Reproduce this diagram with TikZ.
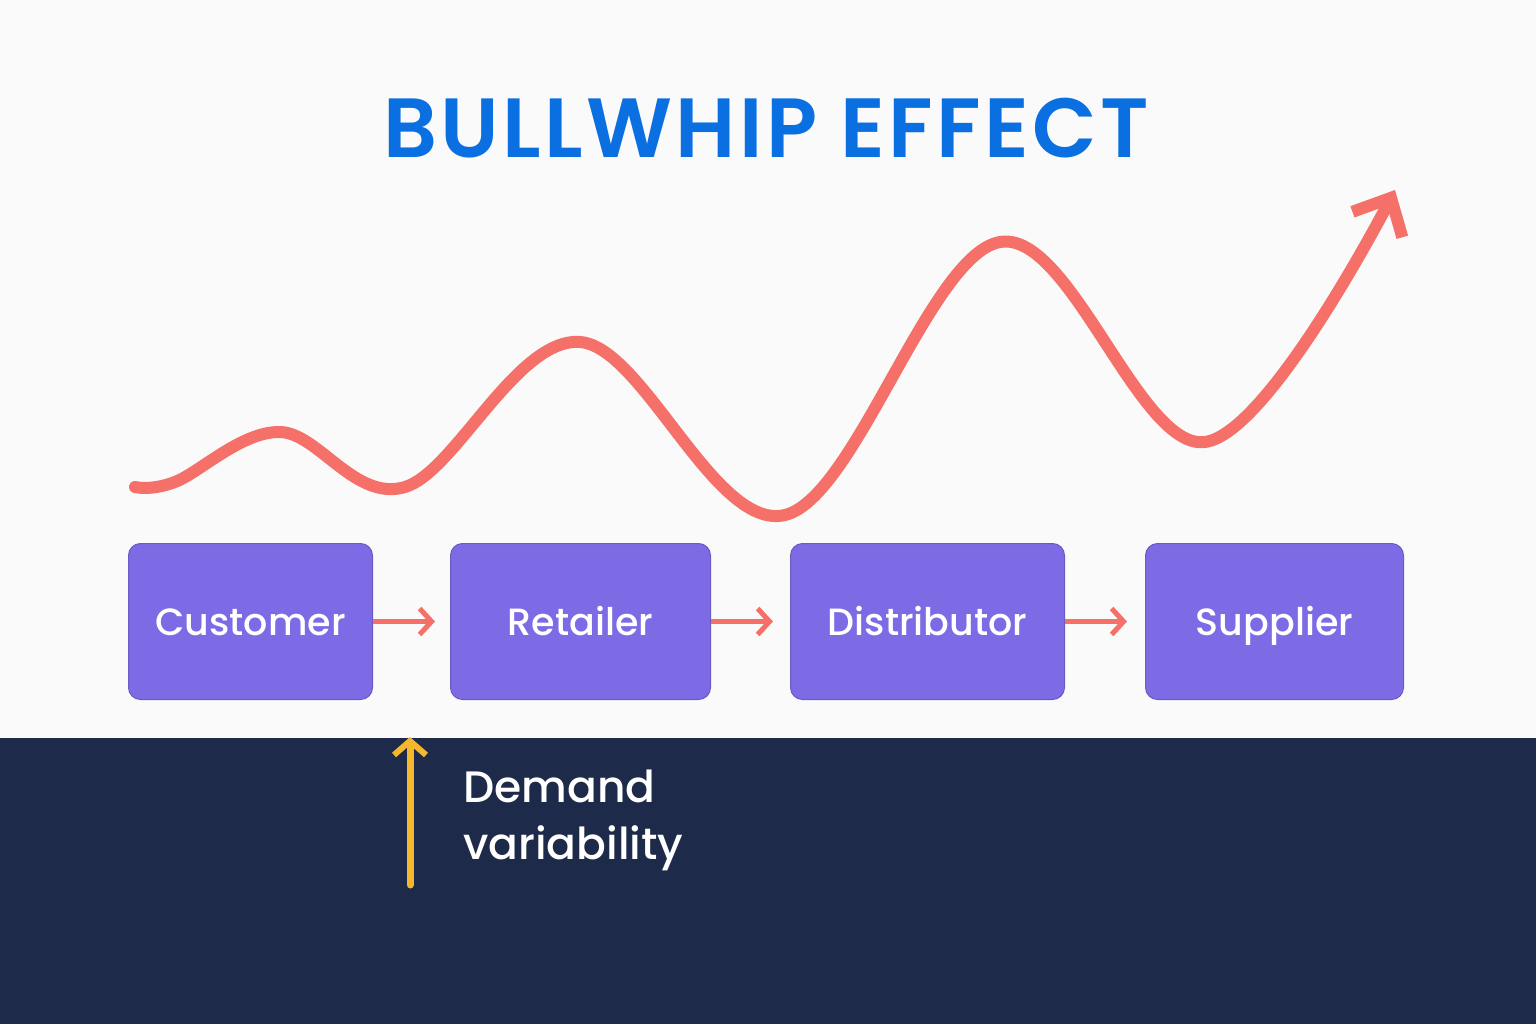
\documentclass[tikz,border=0pt]{standalone}
\usepackage{fontspec}
\setmainfont{Poppins}
\newfontfamily\pmed{Poppins Medium}
\newfontfamily\psemi{Poppins SemiBold}[LetterSpace=4]
\usetikzlibrary{arrows.meta}
\definecolor{bgl}{HTML}{FAFAFA}
\definecolor{navy}{HTML}{1E2A4A}
\definecolor{ttl}{HTML}{0A6FE0}
\definecolor{boxc}{HTML}{7D6BE5}
\definecolor{redc}{HTML}{F47068}
\definecolor{yel}{HTML}{F4B72E}
\begin{document}
\begin{tikzpicture}[x=1pt,y=-1pt,
  stage/.style={fill=boxc,draw=boxc!85!black,line width=1pt,rounded corners=12pt,anchor=north west,inner sep=0pt,minimum height=156pt},
  lbl/.style={text=white,font=\fontsize{38}{40}\selectfont\pmed,anchor=base},
  flow/.style={draw=redc,line width=5pt,-{Straight Barb[length=12pt,width=26pt,line width=5pt]}}]
\useasboundingbox (0,0) rectangle (1536,1024);
\fill[bgl] (0,0) rectangle (1536,738);
\fill[navy] (0,738) rectangle (1536,1024);
\node[text=ttl,font=\fontsize{84}{92}\selectfont\psemi] (title) at (766,128) {BULLWHIP EFFECT};
\node[stage,minimum width=244pt] (c) at (128,543) {};
\node[lbl] at ([yshift=-14pt]c.center) {Customer};
\node[stage,minimum width=260pt] (r) at (450,543) {};
\node[lbl] at ([yshift=-14pt]r.center) {Retailer};
\node[stage,minimum width=274pt] (d) at (790,543) {};
\node[lbl] at ([yshift=-14pt]d.center) {Distributor};
\node[stage,minimum width=258pt] (s) at (1145,543) {};
\node[lbl] at ([yshift=-14pt]s.center) {Supplier};
\draw[flow] (c.east) -- ++(62,0);
\draw[flow] (r.east) -- ++(62,0);
\draw[flow] (d.east) -- ++(62,0);
\draw[redc,line width=12pt,line cap=round,-{Straight Barb[length=30pt,width=56pt,line width=12pt]}]
  plot[smooth,tension=0.6] coordinates {(135,487) (175,482) (280,432) (405,487) (580,342) (785,515) (1000,242) (1205,442) (1395,190)};
\coordinate (ya) at (410,885);
\draw[yel,line width=7pt,line cap=round,-{Straight Barb[length=14pt,width=32pt,line width=6pt]}] (ya) -- (410,737);
\node[text=white,font=\fontsize{44}{57}\selectfont\pmed,anchor=north west,align=left,inner sep=0pt] (dv) at (463,770) {Demand\\variability};
\end{tikzpicture}
\end{document}
